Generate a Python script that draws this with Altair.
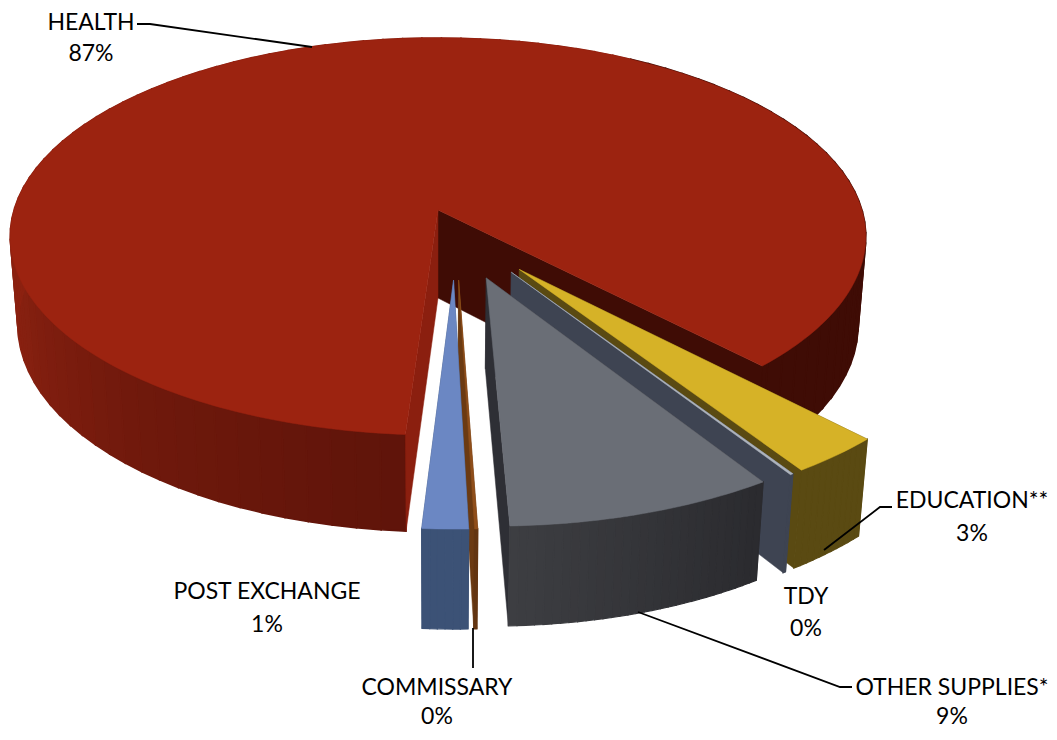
import math
import altair as alt
import pandas as pd

# Shares in percent, clockwise from the Education slice
names = ["EDUCATION**", "TDY", "OTHER SUPPLIES*", "COMMISSARY", "POST EXCHANGE", "HEALTH"]
shares = [3.0, 0.1, 8.55, 0.1, 1.45, 86.8]
labels = ["3%", "0%", "9%", "0%", "1%", "87%"]
explode = [0.233, 0.233, 0.233, 0.233, 0.233, 0.117]
top_col = ["#D6B227", "#AEB4BD", "#6A6E76", "#8F4E1A", "#6B87C3", "#9C2310"]
wall_col = ["#5A4A12", "#3E4452", "#2E2F35", "#6B3A12", "#3C5276", "#3F0C05"]
start_angle = 46.3

# Shade of the rim by direction: (angle, colour)
health_rim = [(-30, (63, 12, 5)), (46, (63, 12, 5)), (60, (70, 15, 7)), (94, (95, 20, 10)),
              (130, (112, 25, 12)), (160, (134, 32, 16)), (180, (140, 33, 16)), (215, (140, 33, 16))]
other_rim = [(57, (42, 42, 46)), (88, (61, 62, 66))]
flat = {0: "#5A4A12", 1: "#3E4452", 3: "#633511", 4: "#3C5276"}


def project(u, v, low=False):
    """Perspective view of a point of the pie plane: top or bottom face."""
    if low:
        w = 1.018 - 0.1335 * v
        return 438 + 424 * u / w, 210 + (195 * v + 89.6) / w
    w = 1 - 0.1335 * v
    return 438 + 424 * u / w, 210 + 195 * v / w


def rgb_at(table, a):
    if a <= table[0][0]:
        c = table[0][1]
    elif a >= table[-1][0]:
        c = table[-1][1]
    else:
        for (a0, c0), (a1, c1) in zip(table, table[1:]):
            if a0 <= a <= a1:
                t = (a - a0) / (a1 - a0)
                c = tuple(c0[k] + (c1[k] - c0[k]) * t for k in range(3))
                break
    return "#%02x%02x%02x" % tuple(int(round(x)) for x in c)


rows = []
pid = 0


def poly(points, col, sw=0.5):
    global pid
    pid += 1
    for i, (x, y) in enumerate(points):
        rows.append({"poly": f"p{pid:04d}", "i": i, "x": x, "y": y, "col": col, "sw": sw})


def slice_faces(k, a0, a1, ou, ov):
    c = lambda a: (ou + math.cos(math.radians(a)), ov + math.sin(math.radians(a)))
    steps = max(1, int(math.ceil(abs(a1 - a0) / 1.0)))
    angs = [a0 + (a1 - a0) * j / steps for j in range(steps + 1)]
    if k == 5:
        # Outer wall first, then the two cut walls, then the top
        for a, b in zip(angs[::3], angs[3::3] + [angs[-1]]):
            m = (a + b) / 2
            m2 = m - 360 if m > 300 else m
            col = rgb_at(health_rim, m2)
            pa, pb = c(a), c(b)
            poly([project(*pa), project(*pb), project(*pb, True), project(*pa, True)], col, 1.6)
        e0, e1 = c(a0), c(a1)
        poly([project(ou, ov), project(*e1), project(*e1, True), project(ou, ov, True)], wall_col[k])
        poly([project(ou, ov), project(*e0), project(*e0, True), project(ou, ov, True)], "#8B1F0F")
    else:
        e0, e1 = c(a0), c(a1)
        poly([project(ou, ov), project(*e0), project(*e0, True), project(ou, ov, True)], wall_col[k])
        poly([project(ou, ov), project(*e1), project(*e1, True), project(ou, ov, True)], wall_col[k])
        for a, b in zip(angs, angs[1:]):
            col = rgb_at(other_rim, (a + b) / 2) if k == 2 else flat[k]
            pa, pb = c(a), c(b)
            poly([project(*pa), project(*pb), project(*pb, True), project(*pa, True)], col, 1.2)
    poly([project(ou, ov)] + [project(*c(a)) for a in angs], top_col[k])


spans = [s * 3.6 for s in shares]
ang = start_angle
geom = []
for k, sp in enumerate(spans):
    geom.append((k, ang, ang + sp))
    ang += sp

hm = math.radians((geom[5][1] + geom[5][2]) / 2)
tu, tv = -explode[5] * math.cos(hm), -explode[5] * math.sin(hm)


def faces(k):
    _, a0, a1 = geom[k]
    m = math.radians((a0 + a1) / 2)
    ou = tu + explode[k] * math.cos(m)
    ov = tv + explode[k] * math.sin(m)
    if k == 5:
        ou, ov = 0.0, 0.0
    slice_faces(k, a0, a1, ou, ov)


for k in [5, 0, 1, 2, 3, 4]:
    faces(k)

df = pd.DataFrame(rows)

X = alt.X("x:Q", scale=alt.Scale(domain=[8, 1049], range=[0, 1041]), axis=None)
Y = alt.Y("y:Q", scale=alt.Scale(domain=[8, 732], range=[0, 724]), axis=None)

pie = alt.Chart(df).mark_line(interpolate="linear-closed", clip=False).encode(
    x=X, y=Y, order="i:Q", detail="poly:N",
    fill=alt.Fill("col:N", scale=None), stroke=alt.Stroke("col:N", scale=None),
    strokeWidth=alt.StrokeWidth("sw:Q", scale=None))

# Leader lines
leaders = pd.DataFrame([
    ("h", 137, 24), ("h", 150, 24), ("h", 312, 47),
    ("e", 824, 550), ("e", 880, 507), ("e", 892, 507),
    ("c", 473, 628), ("c", 473, 668),
    ("o", 638, 612), ("o", 840, 687), ("o", 852, 687),
], columns=["id", "x", "y"]).reset_index()
lead = alt.Chart(leaders).mark_line(color="black", strokeWidth=1.8).encode(
    x=X, y=Y, detail="id:N", order="index:Q")

# Labels
label_x = [972, 806, 952, 437, 267, 91]
name_y = [501, 597, 688, 688, 592, 23]
pct_y = [534, 629, 717, 717, 625, 54]
text_rows = []
for n, l, x, y1, y2 in zip(names, labels, label_x, name_y, pct_y):
    text_rows.append({"t": n, "x": x, "y": y1})
    text_rows.append({"t": l, "x": x, "y": y2})
text = alt.Chart(pd.DataFrame(text_rows)).mark_text(
    font="Lato", fontSize=23, color="black", baseline="middle", align="center").encode(
    x=X, y=Y, text="t:N")

chart = alt.layer(pie, lead, text).properties(
    width=1041, height=724, padding=0,
    autosize=alt.AutoSizeParams(type="none")
).configure_view(stroke=None)

chart.save("out.html", embed_options={"renderer": "svg", "actions": False})
